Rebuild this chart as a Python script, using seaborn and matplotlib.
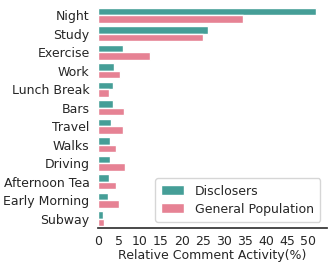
import matplotlib
matplotlib.use("Agg")
import matplotlib.pyplot as plt
from matplotlib.ticker import MultipleLocator
import pandas as pd
import seaborn as sns

# Daten
contexts = ["Night", "Study", "Exercise", "Work", "Lunch Break", "Bars", "Travel",
            "Walks", "Driving", "Afternoon Tea", "Early Morning", "Subway"]
disclosers = [51.9, 26.2, 6.0, 3.8, 3.7, 3.6, 3.1, 3.0, 2.9, 2.6, 2.3, 1.3]
general_pop = [34.6, 25.1, 12.4, 5.3, 2.7, 6.3, 6.0, 4.2, 6.5, 4.2, 5.0, 1.4]

groups = ["Disclosers", "General Population"]
COLORS = ["#36ada4", "#f77189"]
FS = 9

sns.set_theme(style="white")
plt.rcParams["font.family"] = ["DejaVu Sans"]

df = pd.DataFrame({
    "context": contexts * 2,
    "value": disclosers + general_pop,
    "group": [groups[0]] * len(contexts) + [groups[1]] * len(contexts),
})

fig, ax = plt.subplots(figsize=(3.33, 2.69), dpi=100)
sns.barplot(data=df, x="value", y="context", hue="group", palette=COLORS,
            order=contexts, hue_order=groups, ax=ax)

ax.xaxis.set_major_locator(MultipleLocator(5))
ax.set_xlabel("Relative Comment Activity(%)", fontsize=FS, labelpad=1)
ax.set_ylabel("")
ax.tick_params(axis="y", labelsize=FS, length=0, pad=6)
ax.tick_params(axis="x", labelsize=FS, length=0, pad=5)
sns.despine(ax=ax, left=True)
ax.spines["bottom"].set_color("#333333")
ax.legend(loc="lower right", fontsize=FS, frameon=True, handlelength=1.8,
          handleheight=0.8, borderpad=0.5, labelspacing=0.4, handletextpad=0.9)

fig.subplots_adjust(left=0.294, right=0.981, bottom=0.152, top=0.978)
fig.savefig("out.png", dpi=100)
